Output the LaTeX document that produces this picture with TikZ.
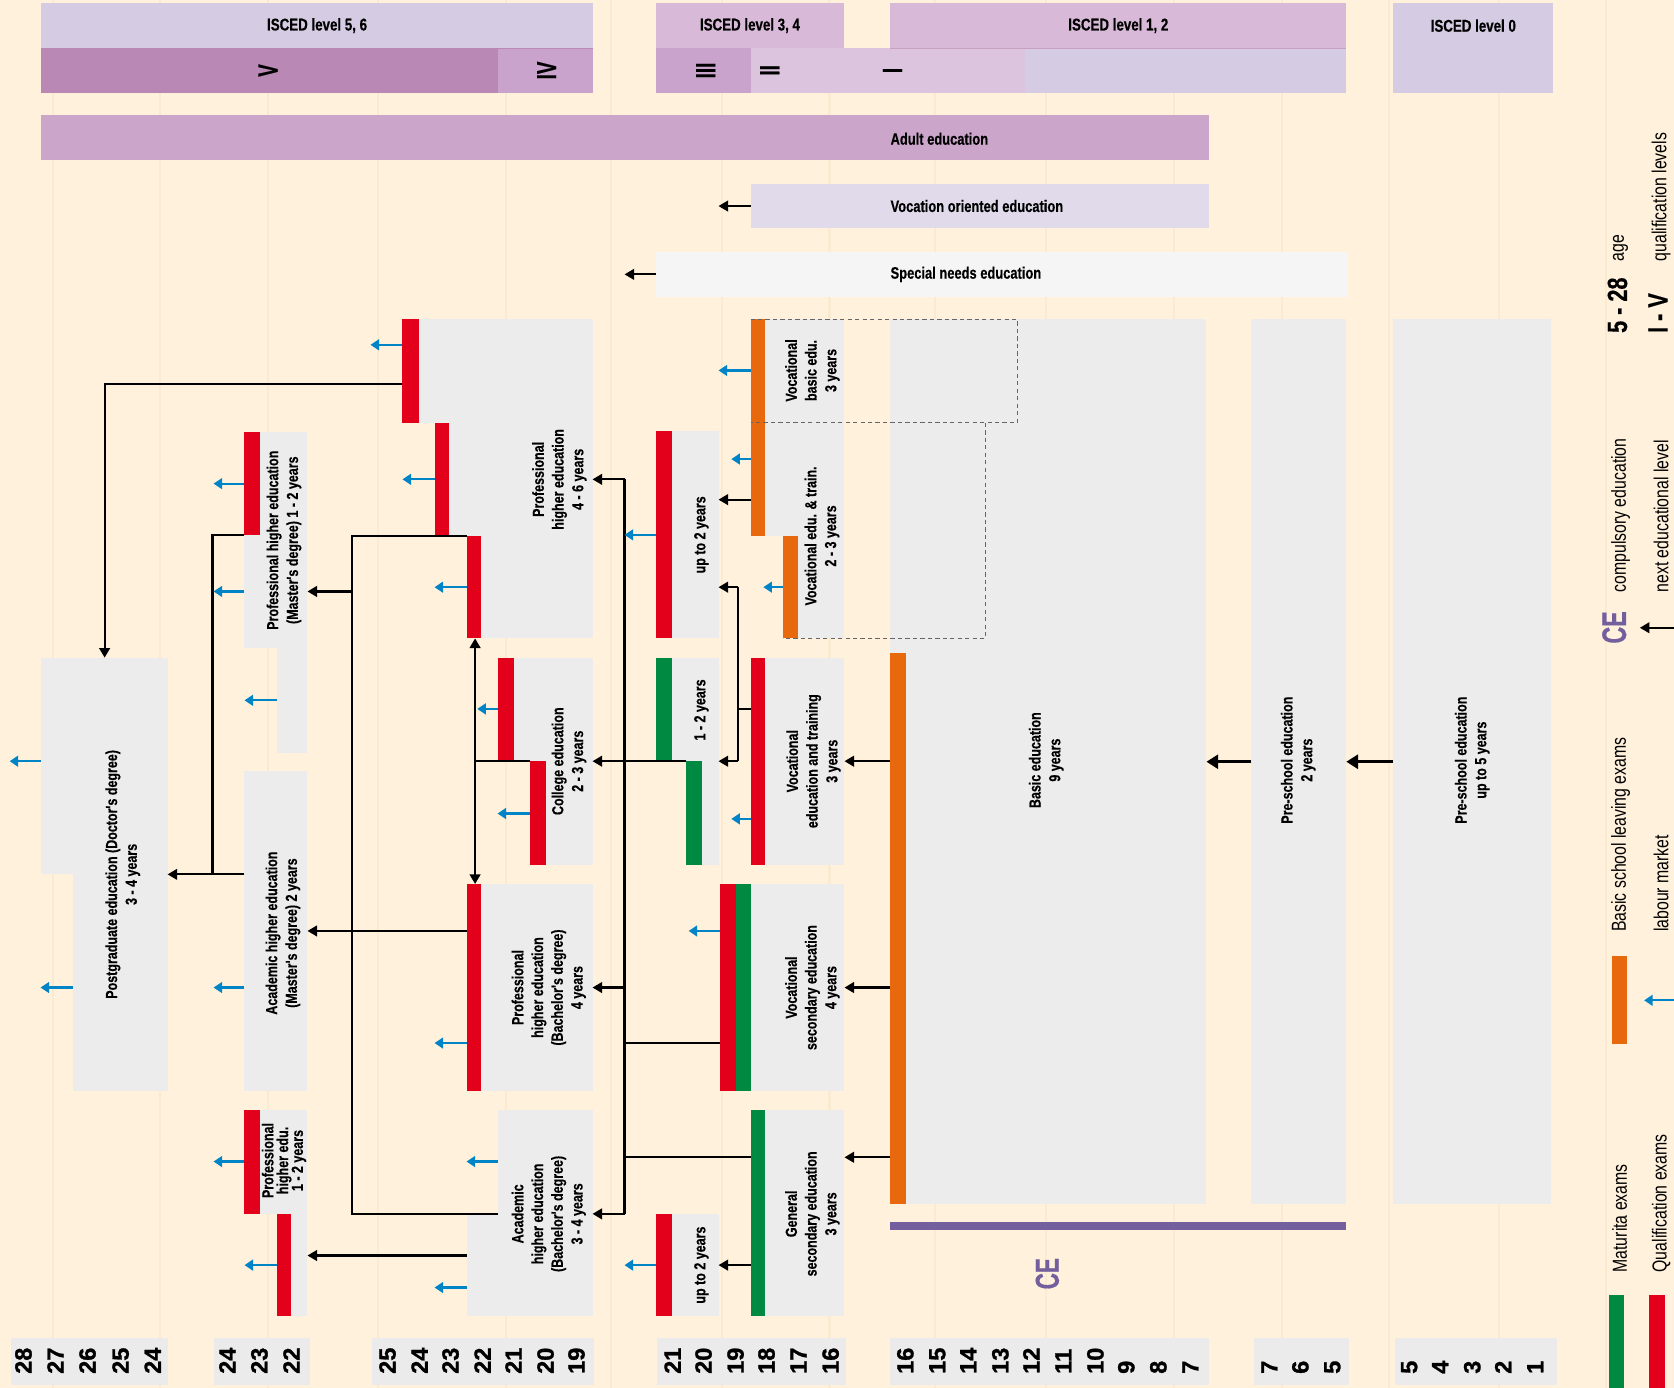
\documentclass[tikz,border=0pt]{standalone}
\usepackage{fontspec}
\setmainfont{Liberation Sans}
\newfontfamily\cf[FakeStretch=0.78]{Liberation Sans}
\newfontfamily\cfb[FakeStretch=0.78,FakeBold=0.4]{Liberation Sans Bold}
\newfontfamily\cfc[FakeStretch=0.68,FakeBold=0.4]{Liberation Sans Bold}
\newfontfamily\numf[FakeBold=1.2]{Liberation Sans Bold}
\usetikzlibrary{arrows.meta,fit}
\definecolor{bgc}{HTML}{FFF1DB}
\definecolor{stripe}{HTML}{FAEAD1}
\definecolor{lav}{HTML}{D5CCE3}
\definecolor{pinklav}{HTML}{D8BAD8}
\definecolor{mauveV}{HTML}{B988B5}
\definecolor{mauveIV}{HTML}{C9A3CB}
\definecolor{liteP}{HTML}{DCC4DF}
\definecolor{adultc}{HTML}{CBA5CA}
\definecolor{vocorc}{HTML}{E0DAEB}
\definecolor{specc}{HTML}{F4F5F4}
\definecolor{boxg}{HTML}{ECECEC}
\definecolor{qred}{HTML}{E2001A}
\definecolor{mgreen}{HTML}{008940}
\definecolor{borange}{HTML}{E8680E}
\definecolor{lblue}{HTML}{0084C8}
\definecolor{cepurple}{HTML}{735F9D}
\definecolor{dashg}{HTML}{666666}
\definecolor{numg}{HTML}{EBEBEB}
\tikzset{
 rbox/.style={fill=#1, inner sep=0pt, outer sep=0pt, draw=none},
 lbl/.style={font=\cfb\fontsize{15}{18.5}\selectfont, align=center, inner sep=0pt, rotate=90},
 hdr/.style={font=\cfb\fontsize{16}{19}\selectfont, inner sep=0pt},
 romantxt/.style={font=\cfc\fontsize{26}{26}\selectfont, inner sep=0pt, rotate=90},
 bartxt/.style={font=\cfb\fontsize{15.5}{18}\selectfont, inner sep=0pt, anchor=west},
 conn/.style={draw=black, line width=2pt, -{Triangle[length=9pt,width=10pt]}},
 cline/.style={draw=black, line width=2pt},
 thickarrow/.style={draw=black, line width=3.2pt, -{Triangle[length=11pt,width=13pt]}},
 labour/.style={draw=lblue, line width=2pt, -{Triangle[length=8pt,width=10pt]}},
 dline/.style={draw=dashg, line width=1.2pt, dash pattern=on 4pt off 3pt},
 agenum/.style={font=\numf\fontsize{22}{22}\selectfont, inner sep=0pt, rotate=90, anchor=west},
 legtxt/.style={font=\cf\fontsize{19}{19}\selectfont, inner sep=0pt, rotate=90, anchor=west},
 legbold/.style={font=\cfb\fontsize{26}{26}\selectfont, inner sep=0pt, rotate=90, anchor=west},
}
\newcommand\rb[6]{\node[rbox=#6, fit={(#2,#3) (#4,#5)}] (#1) {};}
\begin{document}
\begin{tikzpicture}[x=1pt,y=-1pt]
\useasboundingbox (0,0) rectangle (1568,1300);
\fill[bgc] (0,0) rectangle (1568,1300);
\foreach \sx in {50,150,251,354,474,572,676,777,876,980,1100,1201,1301,1404,1504}
  \fill[stripe] (\sx-1,0) rectangle (\sx+1,1300);

% ---------- header ----------
\rb{h56}{38}{3}{555}{45}{lav}
\rb{hV}{38}{45}{466}{87}{mauveV}
\rb{hIV}{466}{45}{555}{87}{mauveIV}
\rb{h34}{614}{3}{791}{45}{pinklav}
\rb{hIII}{614}{45}{703}{87}{mauveIV}
\rb{hII}{703}{45}{960}{87}{liteP}
\rb{hrest}{960}{45}{1261}{87}{lav}
\rb{h12}{834}{3}{1261}{45}{pinklav}
\rb{h0}{1305}{3}{1455}{87}{lav}
\draw[mauveV, line width=0.8pt] (h56.south west) -- (h56.south east);
\draw[mauveV!80, line width=0.8pt] (h12.south west) -- (h12.south east);
\draw[mauveV, line width=0.8pt] (hIV.north west) -- (hIV.south west);
\node[hdr] (t56) at (297,24) {ISCED level 5, 6};
\node[hdr] (t34) at (702.5,24) {ISCED level 3, 4};
\node[hdr] (t12) at (1047.5,24) {ISCED level 1, 2};
\node[hdr] (t0) at (1380,24) {ISCED level 0};
\node[romantxt] (rV) at (251,66) {V};
\node[romantxt] (rIV) at (512,66) {IV};
\node[romantxt] (rIII) at (661,66) {III};
\node[romantxt] (rII) at (721,66) {II};
\node[romantxt] (rI) at (836,66) {I};

% ---------- horizontal bars ----------
\rb{adult}{38}{108}{1132}{150}{adultc}
\node[bartxt] (tadult) at (834,130) {Adult education};
\rb{vocor}{703}{172}{1132}{214}{vocorc}
\node[bartxt] (tvocor) at (834,193) {Vocation oriented education};
\rb{special}{614}{236}{1263}{278}{specc}
\node[bartxt] (tspec) at (834,257) {Special needs education};
\coordinate (vocorEnd) at (673,193);
\coordinate (specEnd) at (585,257);
\draw[conn] (vocor.west) -- (vocorEnd);
\draw[conn] (special.west) -- (specEnd);

% ---------- postgraduate ----------
\rb{pg1}{38}{616}{157}{819}{boxg}
\rb{pg2}{68}{819}{157}{1022}{boxg}
\node[lbl] (tpg) at (115,819) {Postgraduate education (Doctor's degree)\\3 - 4 years};

% ---------- master ----------
\rb{pm}{229}{405}{288}{607}{boxg}
\rb{pmL}{259}{607}{288}{705}{boxg}
\rb{pmR}{229}{405}{244}{501}{qred}
\node[lbl] (tpm) at (266,506) {Professional higher education\\(Master's degree) 1 - 2 years};
\rb{am}{229}{722}{288}{1022}{boxg}
\node[lbl] (tam) at (265,874) {Academic higher education\\(Master's degree) 2 years};
\rb{pl}{244}{1040}{288}{1137}{boxg}
\rb{plL}{273}{1137}{288}{1233}{boxg}
\rb{plR1}{229}{1040}{244}{1137}{qred}
\rb{plR2}{259}{1137}{273}{1233}{qred}
\node[lbl, font=\cfb\fontsize{15}{13.8}\selectfont] (tpl) at (266,1087) {Professional\\higher edu.\\1 - 2 years};

% ---------- bachelor / college ----------
\rb{ph1}{392}{299}{555}{396}{boxg}
\rb{ph2}{421}{396}{555}{502}{boxg}
\rb{ph3}{451}{502}{555}{598}{boxg}
\rb{phR1}{377}{299}{392}{396}{qred}
\rb{phR2}{407}{396}{421}{502}{qred}
\rb{phR3}{437}{502}{451}{598}{qred}
\node[lbl] (tph) at (524,449) {Professional\\higher education\\4 - 6 years};
\rb{co1}{481}{616}{555}{713}{boxg}
\rb{co2}{511}{713}{555}{810}{boxg}
\rb{coR1}{466}{616}{481}{713}{qred}
\rb{coR2}{496}{713}{511}{810}{qred}
\node[lbl] (tco) at (533,713) {College education\\2 - 3 years};
\rb{pb}{451}{828}{555}{1022}{boxg}
\rb{pbR}{437}{828}{451}{1022}{qred}
\node[lbl] (tpb) at (514,925) {Professional\\higher education\\(Bachelor's degree)\\4 years};
\rb{ab1}{466}{1040}{555}{1137}{boxg}
\rb{ab2}{437}{1137}{555}{1233}{boxg}
\node[lbl] (tab) at (514,1137) {Academic\\higher education\\(Bachelor's degree)\\3 - 4 years};

% ---------- post-secondary ----------
\rb{ua}{629}{404}{673}{598}{boxg}
\rb{uaR}{614}{404}{629}{598}{qred}
\node[lbl] (tua) at (657,501) {up to 2 years};
\rb{oy1}{629}{616}{673}{713}{boxg}
\rb{oy2}{658}{713}{673}{810}{boxg}
\rb{oyG1}{614}{616}{629}{713}{mgreen}
\rb{oyG2}{643}{713}{658}{810}{mgreen}
\node[lbl] (toy) at (657,665) {1 - 2 years};
\rb{ub}{629}{1137}{673}{1233}{boxg}
\rb{ubR}{614}{1137}{629}{1233}{qred}
\node[lbl] (tub) at (657,1185) {up to 2 years};

% ---------- secondary ----------
\rb{vb}{717}{299}{791}{396}{boxg}
\rb{vbO}{703}{299}{717}{396}{borange}
\node[lbl] (tvb) at (761,347) {Vocational\\basic edu.\\3 years};
\rb{vt1}{717}{396}{791}{502}{boxg}
\rb{vt2}{747}{502}{791}{598}{boxg}
\rb{vtO1}{703}{396}{717}{502}{borange}
\rb{vtO2}{733}{502}{747}{598}{borange}
\node[lbl] (tvt) at (770,502) {Vocational edu. \& train.\\2 - 3 years};
\rb{vet}{717}{616}{791}{810}{boxg}
\rb{vetR}{703}{616}{717}{810}{qred}
\node[lbl] (tvet) at (762,713) {Vocational\\education and training\\3 years};
\rb{vs}{703}{828}{791}{1022}{boxg}
\rb{vsR}{674}{828}{689}{1022}{qred}
\rb{vsG}{689}{828}{703}{1022}{mgreen}
\node[lbl] (tvs) at (761,925) {Vocational\\secondary education\\4 years};
\rb{gs}{717}{1040}{791}{1233}{boxg}
\rb{gsG}{703}{1040}{717}{1233}{mgreen}
\node[lbl] (tgs) at (761,1137) {General\\secondary education\\3 years};

% ---------- basic & pre-school ----------
\rb{be}{834}{299}{1130}{1128}{boxg}
\rb{beO}{834}{612}{849}{1128}{borange}
\node[lbl] (tbe) at (980,712) {Basic education\\9 years};
\rb{ps2}{1172}{299}{1261}{1128}{boxg}
\node[lbl] (tps2) at (1216,712) {Pre-school education\\2 years};
\rb{ps5}{1305}{299}{1453}{1128}{boxg}
\node[lbl] (tps5) at (1379,712) {Pre-school education\\up to 5 years};
\rb{cebar}{834}{1145}{1261}{1152}{cepurple}
\node[font=\cfc\fontsize{31}{31}\selectfont, text=cepurple, rotate=90, inner sep=0pt] (ce) at (981,1193) {CE};

% ---------- dashed outline ----------
\coordinate (d1) at (953,299); \coordinate (d2) at (953,396);
\coordinate (d3) at (923,396); \coordinate (d4) at (923,598);
\draw[dline] (vbO.north west) -- (d1) -- (d2) -- (vbO.south west);
\draw[dline] (d3) -- (d4) -- (vtO2.south west);

% ---------- connectors ----------
\coordinate (k1) at (98,360);
\draw[conn] (phR1.west |- k1) -- (k1) -- (k1 |- pg1.north);
\coordinate (k2) at (199,501); \coordinate (k3) at (199,819);
\draw[conn] (pmR.south west) -- (k2) -- (k3) -- (pg1.south east);
\draw[cline] (am.west |- k3) -- (k3);
\coordinate (k4) at (330,502); \coordinate (k5) at (330,1137); \coordinate (k6) at (330,554);
\draw[cline] (phR3.north west) -- (k4) -- (k5) -- (ab1.south west);
\draw[conn] (k6) -- (k6 -| pm.east);
\coordinate (k7) at (445,713);
\draw[cline] (coR2.north west) -- (k7);
\draw[conn] (k7) -- (k7 |- phR3.south);
\draw[conn] (k7) -- (k7 |- pbR.north);
\coordinate (k8) at (437,872);
\draw[conn] (k8) -- (k8 -| am.east);
\coordinate (k9) at (437,1176);
\draw[conn] (k9) -- (k9 -| plL.east);
\coordinate (m1) at (585,449); \coordinate (m2) at (585,1137); \coordinate (m3) at (585,925);
\coordinate (m4) at (585,977); \coordinate (m5) at (585,1084);
\draw[cline] (m1) -- (m2);
\draw[conn] (m1) -- (ph2.east);
\draw[conn] (m3) -- (pb.east);
\draw[conn] (m2) -- (ab1.south east);
\draw[cline] (vsR.west |- m4) -- (m4);
\draw[cline] (gsG.west |- m5) -- (m5);
\draw[conn] (oyG2.north west) -- (co1.south east);
\coordinate (n1) at (691,550); \coordinate (n2) at (691,713); \coordinate (n3) at (691,664);
\draw[cline] (vetR.west |- n3) -- (n3);
\draw[cline] (n1) -- (n2);
\draw[conn] (n1) -- (n1 -| ua.east);
\draw[conn] (n2) -- (oy2.north east);
\coordinate (n4) at (703,468);
\draw[conn] (n4) -- (n4 -| ua.east);
\draw[conn] (beO.west |- vet.east) -- (vet.east);
\draw[conn] (beO.west |- vs.east) -- (vs.east);
\coordinate (n5) at (834,1084);
\draw[conn] (n5) -- (n5 -| gs.east);
\draw[conn] (gsG.west |- ub.east) -- (ub.east);
\draw[thickarrow] (ps5.west) -- (ps2.east);
\draw[thickarrow] (ps2.west) -- (be.east);

% ---------- labour market arrows ----------
\foreach \nm/\xa/\xb/\yy in {a1/377/347/323, a2/407/377/449, a3/437/407/550,
  a4/229/200/453, a5/229/200/554, a6/259/229/656, a7/38/9/713, a8/68/38/925,
  a9/229/200/925, a10/229/200/1088, a11/259/229/1185, a12/466/447/664,
  a13/496/466/762, a14/437/407/977, a15/466/437/1088, a16/437/407/1206,
  a17/614/585/501, a18/614/585/1185, a19/703/673/347, a20/703/685/430,
  a21/733/715/550, a22/703/685/767, a23/674/645/872}
{
  \coordinate (\nm s) at (\xa,\yy);
  \coordinate (\nm e) at (\xb,\yy);
  \draw[labour] (\nm s) -- (\nm e);
}

% ---------- age axis ----------
\rb{ax1}{10}{1253}{157}{1297}{numg}
\rb{ax2}{200}{1253}{290}{1297}{numg}
\rb{ax3}{348}{1253}{556}{1297}{numg}
\rb{ax4}{615}{1253}{792}{1297}{numg}
\rb{ax5}{834}{1253}{1132}{1297}{numg}
\rb{ax6}{1175}{1253}{1264}{1297}{numg}
\rb{ax7}{1307}{1253}{1458}{1297}{numg}
\foreach \n/\xx in {28/22,27/52,26/82,25/113,24/143,
  24/213,23/243,22/273,
  25/363,24/393,23/422,22/452,21/481,20/511,19/540,
  21/630,20/659,19/689,18/718,17/748,16/778,
  16/848,15/878,14/907,13/937,12/966,11/996,10/1026,9/1055,8/1085,7/1115,
  7/1189,6/1218,5/1248,
  5/1320,4/1349,3/1379,2/1408,1/1438}
  \node[agenum] (age-\xx) at (\xx,1287) {\n};

% ---------- legend ----------
\node[legtxt] (lq) at (1556,245) {qualification levels};
\node[legtxt] (lage) at (1518,245) {age};
\node[legbold] (l528) at (1515,312) {5 - 28};
\node[legbold] (liv) at (1553,312) {I - V};
\node[legtxt] (lce) at (1518,555) {compulsory education};
\node[font=\cfc\fontsize{32}{32}\selectfont, text=cepurple, rotate=90, inner sep=0pt, anchor=west] (lceb) at (1512,603) {CE};
\node[legtxt] (lnext) at (1556,555) {next educational level};
\coordinate (ln1) at (1568,588); \coordinate (ln2) at (1536,588);
\draw[conn] (ln1) -- (ln2);
\node[legtxt] (lbs) at (1518,873) {Basic school leaving exams};
\rb{lgO}{1510}{895}{1524}{978}{borange}
\node[legtxt] (llm) at (1556,873) {labour market};
\coordinate (lm1) at (1568,937); \coordinate (lm2) at (1540,937);
\draw[labour] (lm1) -- (lm2);
\node[legtxt] (lmat) at (1517,1192) {Maturita exams};
\node[legtxt] (lqual) at (1556,1192) {Qualification exams};
\rb{lgG}{1507}{1213}{1521}{1300}{mgreen}
\rb{lgR}{1545}{1213}{1560}{1300}{qred}
\end{tikzpicture}
\end{document}
